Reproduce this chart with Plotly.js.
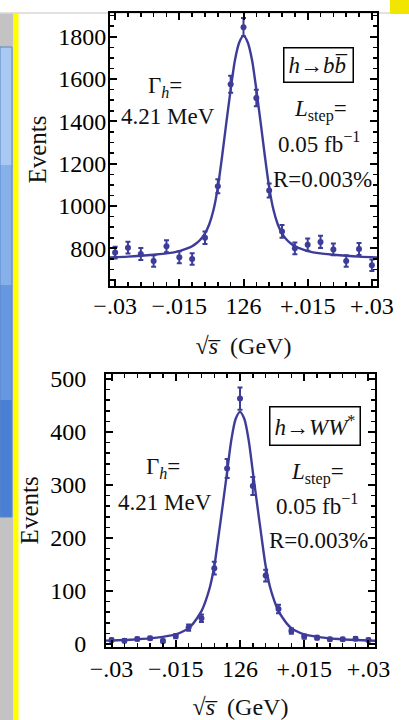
<!DOCTYPE html>
<html>
<head>
<meta charset="utf-8">
<script src="https://cdn.plot.ly/plotly-3.0.1.min.js"></script>
<style>html,body{margin:0;padding:0;background:#fff;}#chart{width:409px;height:720px;}</style>
</head>
<body>
<div id="chart"></div>
<script>
// ---- data ----
const xPts = [-0.03,-0.027,-0.024,-0.021,-0.018,-0.015,-0.012,-0.009,-0.006,-0.003,0,0.003,0.006,0.009,0.012,0.015,0.018,0.021,0.024,0.027,0.03];
const bbY   = [780,803,773,740,810,758,750,850,1093,1575,1845,1510,1073,880,800,817,830,795,740,797,720];
const bbErr = [28,28,28,27,28,28,27,29,33,40,43,39,33,30,28,29,29,28,27,28,27];
const wwY   = [7.5,6.2,9.4,10.8,5.7,15,31,48.5,143,331,463,298,129,66,24.5,14,12,9,9,10,7.5];
const wwErr = [3,3,3,3,3,4,6,7,12,18,21,17,11,8,5,4,3.5,3,3,3,3];

const curveX  = [-0.0316,-0.027,-0.024,-0.021,-0.018,-0.015,-0.013,-0.012,-0.011,-0.010,-0.009,-0.008,-0.007,-0.006,-0.005,-0.004,-0.003,-0.002,-0.001,0,
                 0.001,0.002,0.003,0.004,0.005,0.006,0.007,0.008,0.009,0.010,0.011,0.012,0.013,0.015,0.018,0.021,0.024,0.027,0.0316];
const curveBB = [757,761,765,770,776,787,801,810,824,843,871,914,982,1088,1235,1395,1550,1689,1773,1805,
                 1773,1689,1550,1395,1235,1088,982,914,871,843,824,810,801,787,776,770,765,761,757];
const curveWW = [6.2,7.5,8.8,10.5,13.5,18,25,30,38,49,62,82,108,147,204,264,325,386,425,438,
                 425,386,325,264,204,147,108,82,62,49,38,30,25,18,13.5,10.5,8.8,7.5,6.2];

const xTickVals = [-0.03,-0.015,0,0.015,0.03];
const xTickText = ['\u2212.03','\u2212.015','126','+.015','+.03'];
const bbTickVals = [800,1000,1200,1400,1600,1800];
const wwTickVals = [0,100,200,300,400,500];
const xTitle = '\u221A<i>s\u0305</i>  (GeV)';
const yTitle = 'Events';

// ---- styling ----
const W = 409, H = 720;
const px = v => v / W;
const py = v => 1 - v / H;
const blue = 'rgb(61,61,153)';
const FONT = 'Liberation Serif';

function pts(x, y, err, xa, ya) {
  return {x: x, y: y, xaxis: xa, yaxis: ya, type: 'scatter', mode: 'markers',
    marker: {color: blue, size: 6},
    error_y: {type: 'data', array: err, visible: true, color: blue, thickness: 2, width: 2.5},
    showlegend: false, hoverinfo: 'x+y'};
}
function curve(x, y, xa, ya) {
  return {x: x, y: y, xaxis: xa, yaxis: ya, type: 'scatter', mode: 'lines',
    line: {color: blue, width: 2.4, shape: 'spline', smoothing: 0.8},
    showlegend: false, hoverinfo: 'skip'};
}

const data = [
  curve(curveX, curveBB, 'x', 'y'),
  pts(xPts, bbY, bbErr, 'x', 'y'),
  curve(curveX, curveWW, 'x2', 'y2'),
  pts(xPts, wwY, wwErr, 'x2', 'y2')
];

function xaxis(domain, range, anchor, labelStandoff, standoff) {
  return {domain: domain, range: range, anchor: anchor, automargin: false,
    tickvals: xTickVals, ticktext: xTickText,
    ticks: 'inside', ticklen: 7, tickwidth: 2, tickcolor: '#000',
    minor: {dtick: 0.003, tick0: 0, ticks: 'inside', ticklen: 4, tickwidth: 1.5, tickcolor: '#000'},
    showline: true, linecolor: '#000', linewidth: 2, mirror: 'allticks',
    showgrid: false, zeroline: false,
    tickfont: {family: FONT, size: 24, color: '#000'},
    ticklabelstandoff: labelStandoff,
    title: {text: xTitle, standoff: standoff, font: {family: FONT, size: 24, color: '#111'}}};
}
function yaxis(domain, range, anchor, tv, minorStep, labelStandoff, standoff) {
  return {domain: domain, range: range, anchor: anchor, automargin: false,
    tickvals: tv,
    ticks: 'inside', ticklen: 7, tickwidth: 2, tickcolor: '#000',
    minor: {dtick: minorStep, tick0: 0, ticks: 'inside', ticklen: 4, tickwidth: 1.5, tickcolor: '#000'},
    showline: true, linecolor: '#000', linewidth: 2, mirror: 'allticks',
    showgrid: false, zeroline: false,
    tickfont: {family: FONT, size: 24, color: '#000'},
    ticklabelstandoff: labelStandoff,
    title: {text: yTitle, standoff: standoff, font: {family: FONT, size: 25, color: '#111'}}};
}

function txt(x, y, t, extra) {
  return Object.assign({xref: 'paper', yref: 'paper', x: px(x), y: py(y), text: t,
    showarrow: false, xanchor: 'center', yanchor: 'middle',
    font: {family: FONT, size: 23, color: '#111'}}, extra || {});
}
function boxTxt(x, y, t) {
  return txt(x, y, t, {bordercolor: '#000', borderwidth: 1.5, borderpad: 4, bgcolor: '#fff'});
}

const annotations = [
  // panel 1
  txt(165, 87, '\u0393<sub><i>h</i></sub>='),
  txt(168, 117, '4.21 MeV'),
  boxTxt(318, 65, '<i>h</i>\u2192<i>b</i><i>b\u0305</i>'),
  txt(320, 110, '<i>L</i><sub>step</sub>='),
  txt(319, 143, '0.05 fb<sup>\u22121</sup>'),
  txt(322, 179, 'R=0.003%'),
  // panel 2
  txt(163, 468, '\u0393<sub><i>h</i></sub>='),
  txt(165, 502, '4.21 MeV'),
  boxTxt(315, 426, '<i>h</i>\u2192<i>WW</i><sup>*</sup>'),
  txt(317, 473, '<i>L</i><sub>step</sub>='),
  txt(317, 505, '0.05 fb<sup>\u22121</sup>'),
  txt(318, 540, 'R=0.003%')
];

// slide background fragments around the chart
const shapes = [
  {type: 'rect', xref: 'paper', yref: 'paper', x0: 0, x1: px(13.5), y0: 0, y1: py(13), fillcolor: '#c3c3c3', line: {width: 0}, layer: 'below'},
  {type: 'rect', xref: 'paper', yref: 'paper', x0: 0, x1: px(12), y0: py(165), y1: py(47), fillcolor: '#a9c9f3', line: {width: 0}, layer: 'below'},
  {type: 'rect', xref: 'paper', yref: 'paper', x0: 0, x1: px(12), y0: py(285), y1: py(165), fillcolor: '#86b0ea', line: {width: 0}, layer: 'below'},
  {type: 'rect', xref: 'paper', yref: 'paper', x0: 0, x1: px(12), y0: py(400), y1: py(285), fillcolor: '#6797e0', line: {width: 0}, layer: 'below'},
  {type: 'rect', xref: 'paper', yref: 'paper', x0: 0, x1: px(12), y0: py(517), y1: py(400), fillcolor: '#4a80d4', line: {width: 0}, layer: 'below'},
  {type: 'rect', xref: 'paper', yref: 'paper', x0: 0, x1: px(12), y0: py(517), y1: py(47), fillcolor: 'rgba(0,0,0,0)', line: {width: 1, color: '#5a86c8'}, layer: 'below'},
  {type: 'rect', xref: 'paper', yref: 'paper', x0: px(13.5), x1: px(18.5), y0: 0, y1: py(13), fillcolor: '#ffff00', line: {width: 0}, layer: 'below'},
  {type: 'rect', xref: 'paper', yref: 'paper', x0: px(390), x1: 1, y0: py(14), y1: 1, fillcolor: '#f2e600', line: {width: 0}, layer: 'below'},
  {type: 'line', xref: 'paper', yref: 'paper', x0: 0, x1: px(390), y0: py(13), y1: py(13), line: {width: 1.5, color: '#d8d8d8'}, layer: 'below'}
];

const layout = {
  width: W, height: H,
  margin: {l: 0, r: 0, t: 0, b: 0},
  paper_bgcolor: '#fff', plot_bgcolor: '#fff',
  showlegend: false,
  font: {family: FONT},
  xaxis: xaxis([px(110), px(377)], [-0.0312, 0.0312], 'y', -3, 19),
  yaxis: yaxis([py(286), py(13)], [622, 1912], 'x', bbTickVals, 50, -3, 4),
  xaxis2: xaxis([px(106), px(375)], [-0.0313, 0.03154], 'y2', -1, 21),
  yaxis2: yaxis([py(646.7), py(374)], [-5.1, 509.4], 'x2', wwTickVals, 20, 13, 4),
  annotations: annotations,
  shapes: shapes
};

Plotly.newPlot('chart', data, layout, {staticPlot: true, displayModeBar: false});
</script>
</body>
</html>
